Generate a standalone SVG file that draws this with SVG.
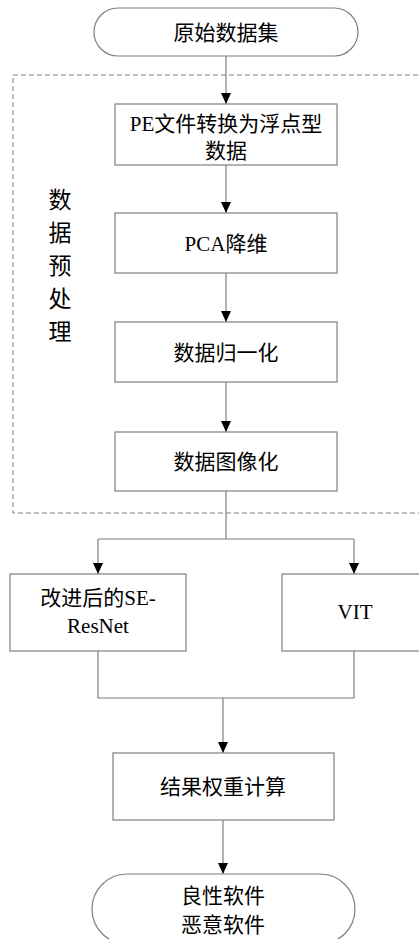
<svg xmlns="http://www.w3.org/2000/svg" width="419" height="939" viewBox="0 0 419 939">
  <style>
    .box { fill: #ffffff; stroke: #7f7f7f; stroke-width: 1.2; }
    .frame { fill: none; stroke: #7f7f7f; stroke-width: 1; stroke-dasharray: 5 3; }
    .wire { fill: none; stroke: #7f7f7f; stroke-width: 1.2; }
    .lbl { font-family: "Liberation Serif", "Noto Sans CJK SC", serif; font-size: 21px; fill: #000000; text-anchor: middle; }
    .side { font-family: "Liberation Serif", "Noto Sans CJK SC", serif; font-size: 23px; fill: #000000; text-anchor: middle; }
  </style>
  <defs>
    <marker id="arrow" markerWidth="11" markerHeight="10" refX="11" refY="5" orient="auto" markerUnits="userSpaceOnUse">
      <path d="M0,0 L11,5 L0,10 Z" fill="#000000"/>
    </marker>
  </defs>

  <rect width="419" height="939" fill="#ffffff"/>

  <!-- preprocessing stage frame -->
  <g id="preprocess-frame">
    <rect class="frame" x="13" y="75" width="430" height="438"/>
    <text class="side" x="60" y="208">数</text>
    <text class="side" x="60" y="241">据</text>
    <text class="side" x="60" y="274">预</text>
    <text class="side" x="60" y="307">处</text>
    <text class="side" x="60" y="340">理</text>
  </g>

  <!-- connectors -->
  <g id="connectors">
    <path class="wire" d="M226,56 V104" marker-end="url(#arrow)"/>
    <path class="wire" d="M226,165 V213" marker-end="url(#arrow)"/>
    <path class="wire" d="M226,273 V322" marker-end="url(#arrow)"/>
    <path class="wire" d="M226,382 V432" marker-end="url(#arrow)"/>
    <path class="wire" d="M226,491 V539"/>
    <path class="wire" d="M98,539 H354"/>
    <path class="wire" d="M98,539 V574" marker-end="url(#arrow)"/>
    <path class="wire" d="M354,539 V574" marker-end="url(#arrow)"/>
    <path class="wire" d="M98,651 V698 H354 V651"/>
    <path class="wire" d="M223,698 V753" marker-end="url(#arrow)"/>
    <path class="wire" d="M223,820 V874" marker-end="url(#arrow)"/>
  </g>

  <g id="start">
    <rect class="box" x="94" y="8" width="264" height="48" rx="24"/>
    <text class="lbl" x="226" y="40">原始数据集</text>
  </g>

  <g id="pe-convert">
    <rect class="box" x="115" y="104" width="222" height="61"/>
    <text class="lbl" x="226" y="131">PE文件转换为浮点型</text>
    <text class="lbl" x="226" y="158">数据</text>
  </g>

  <g id="pca">
    <rect class="box" x="115" y="213" width="222" height="60"/>
    <text class="lbl" x="226" y="251">PCA降维</text>
  </g>

  <g id="normalize">
    <rect class="box" x="115" y="322" width="222" height="60"/>
    <text class="lbl" x="226" y="360">数据归一化</text>
  </g>

  <g id="to-image">
    <rect class="box" x="115" y="432" width="222" height="59"/>
    <text class="lbl" x="226" y="469">数据图像化</text>
  </g>

  <g id="se-resnet">
    <rect class="box" x="10" y="574" width="176" height="77"/>
    <text class="lbl" x="98" y="605">改进后的SE-</text>
    <text class="lbl" x="98" y="633">ResNet</text>
  </g>

  <g id="vit">
    <rect class="box" x="282" y="574" width="150" height="77"/>
    <text class="lbl" x="355" y="619">VIT</text>
  </g>

  <g id="weighting">
    <rect class="box" x="113" y="753" width="221" height="67"/>
    <text class="lbl" x="223" y="794">结果权重计算</text>
  </g>

  <g id="result">
    <rect class="box" x="92" y="874" width="263" height="70" rx="35"/>
    <text class="lbl" x="223" y="903">良性软件</text>
    <text class="lbl" x="223" y="932">恶意软件</text>
  </g>
</svg>
